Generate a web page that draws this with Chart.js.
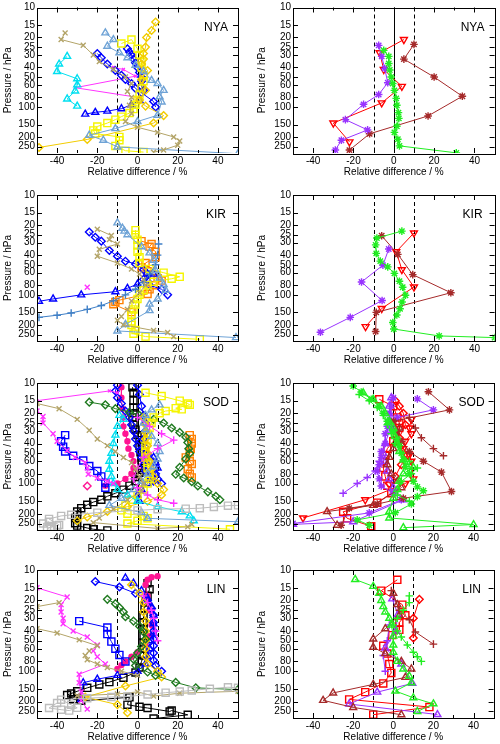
<!DOCTYPE html>
<html>
<head>
<meta charset="utf-8">
<script src="https://cdn.jsdelivr.net/npm/chart.js@4"></script>
<style>
  body { margin: 0; background: #fff; }
  #wrap { position: relative; width: 500px; height: 744px; }
  #wrap canvas { position: absolute; }
</style>
</head>
<body>
<div id="wrap"></div>
<script>
const pressureTicks = [10, 15, 20, 25, 30, 40, 50, 60, 80, 100, 150, 200, 250]
const diffTicks = [-40, -20, 0, 20, 40]
const refLines = [-10, 0, 10]
const stations = ["NYA", "KIR", "SOD", "LIN"]

// every series: [relative difference %, pressure hPa]
// NYA
const nyaCyanTri = [[-35,31],[-39,37],[-40,44],[-30,52],[-30,60],[-31,69],[-35,83],[-30,98]]
const nyaMagenta = [[-12,40],[-7,42],[-1,49],[-31,64],[0,80]]
const nyaBlueDia1 = [[-20,29],[-18,32],[-15,37],[-11,43],[-8,48],[-6,53],[-3,58],[-1,65],[2,72],[8,88],[9,100]]
const nyaBlueDia2 = [[-5,26],[-4,28],[-3,30],[-2,33],[-1,36],[0,40],[1,45],[2,50],[2,55],[2,62],[3,68]]
const nyaBlueTri = [[-26,118],[-21,113],[-15,110],[-8,104],[-3,95],[1,86]]
const nyaYellowSq = [[-8,23],[-3,21],[0,26],[1,30],[2,35],[2,40],[3,48],[3,55],[2,65],[1,75],[0,85],[-1,95],[-2,105],[-4,115],[-8,125],[-11,134],[-15,145],[-20,157],[-22,172],[-21,185],[-9,200],[-9,216],[-11,246],[-6,275],[3,284]]
const nyaGoldDia = [[9,14],[7,17],[4.5,20],[4,25],[3,29],[3,33],[2,37],[5,43],[2,53],[4,68],[1,85],[4,98],[13,122],[8,145],[-25,212],[-49,255]]
const nyaSkyTri = [[-16,18],[-12,21],[-15,24.5],[-9,28.5],[-5,32],[-1,38],[3,44],[7,54],[10,58],[13,68],[11,79],[12,89],[10,121],[0,140],[-11,165],[-24,192],[-17,216],[-10,252],[50,295]]
const nyaKhakiX = [[-36,18],[-38,21],[-27,24],[-22,30],[-19,35],[-12,42],[-6,50],[-3,58],[-5,70],[-3,80],[-4,96],[-3,116],[-6,140],[0,160],[10,180],[18,200],[21,220],[20,242],[13,270],[8,285]]
const nyaRedInv = [[5,21],[-7,28.5],[-5,42],[4,62],[-6,91],[-30,145],[-22,224]]
const nyaBrownStar = [[10,23.5],[5,33],[20,50],[34,78],[17,123],[-12,186],[-22,271]]
const nyaPurpleStar = [[-7.5,24],[-6,31],[-4.5,41],[-3,57],[-7.5,75],[-15,94],[-24,134],[-13,170],[-26,216],[-29,271]]
const nyaGreenStar = [[-5,27],[-2.5,31],[-2.5,36.5],[-2,42.5],[-1.3,50],[-0.5,58],[0.3,68],[1.2,82],[1.5,96],[2.3,114],[2.5,130],[1.5,156],[0.3,180],[2,211],[2.8,246],[31,289]]

// KIR
const kirSkyTri = [[-10,19],[-7.5,21.5],[-6.5,23],[-5,25],[2,33],[6,38],[8,45],[9,57],[11,68],[13,79],[14,90],[10,110],[6,124],[6,144],[-6,198],[-10,230],[49,268]]
const kirBlueDia = [[-24,23.5],[-21,26.5],[-18,29],[-14,36],[-10,41],[-6,46],[-1,49],[3,56],[5,62],[3,70],[6,80],[12,88],[15,100]]
const kirBlueTri = [[-49,116],[-42,110],[-28,100],[-11,93],[-5,86],[0,78],[5,70],[8,62]]
const kirSkyPlus = [[-49,168],[-40,160],[-33,152],[-25,140],[-18,128],[-12,115],[-6,100],[-1,88],[3,75],[6,62],[9,50],[10,40],[10.5,31]]
const kirKhakiX = [[-20,22],[-13,25.5],[-14,28],[-10,31],[-19,35],[-20,41],[-10,48],[-3,55],[1,62],[3,70],[4,80],[1,95],[-3,115],[-5,140],[-8,165],[-10,180],[-7,200],[8,228],[15,238],[18,262]]
const kirMagentaX = [[-25,84]]
const kirYellowSq = [[-1,22.5],[-1,25],[0,28],[0,32],[0,37],[1,42],[1,48],[6,55],[13,60],[21,66],[17,69],[8,74],[5,80],[3,90],[1,100],[0,110],[-1,125],[-2,140],[-3,160],[-3,185],[-3,200],[-1,225],[-2,245],[4,262],[31,279]]
const kirOrangeSq = [[2,29],[7,31],[6,33],[9,37],[9,42],[4,48],[2,53],[5,58],[8,63],[10,68],[12,72],[8,80],[6,88],[5,98],[-9,113],[-11,118],[-12,124],[-3,149]]
const kirGreenStar = [[4,23],[-8.4,27],[-9,31.6],[-8.7,38.4],[-6.7,46],[-3,52.5],[0.3,61],[2.8,73],[4.4,84],[5.8,101],[4.1,118],[3.1,138],[1.5,159],[-0.5,189],[0,220],[22.5,258],[50,268]]
const kirRedInv = [[10,24],[1.2,37],[4,56],[10,83.5],[-6,137],[-14,208]]
const kirBrownStar = [[-6,25.6],[2,39.3],[9.4,62.8],[28.3,95.3],[-8.7,150],[-9,233]]
const kirPurpleStar = [[-2.5,34.7],[-5.4,50.5],[-16,74.4],[-5.8,114],[-21.6,168],[-36.4,237]]

// SOD
const sodBlackSq = [[-2.5,11],[-2,12.5],[-2,15],[-2,17.5],[-2,20],[-2.5,22],[-2,26],[-1,29],[0,33],[1,37],[1,42],[1.5,49],[2,55],[2,62],[2,70],[1,78],[0,86],[-1,95],[-4,105],[-7,115],[-11,125],[-15,134],[-18,145],[-22,153],[-25,163],[-28,176],[-30,190],[-30,205],[-31,220],[-31,248],[-30,262],[-25,277],[-22,285],[-15,293]]
const sodGreySq = [[-44,240],[-47,250],[-40,262],[-43,270],[-45,280],[-39,258],[-44,225],[-38,210],[-33,205],[-20,195],[0,185],[10,180],[24,178],[31,176],[38,171],[45,166],[50,165]]
const sodYellowSq = [[4,12.5],[12,13.5],[21,15],[25,16],[26,16.5],[19,17.8],[22,18.3],[14,19],[11,20],[8,22],[7,25],[6,28],[5,32],[5,37],[4,42],[4,48],[4,55],[5,62],[5,70],[6,80],[6,90],[5,100],[3,115],[0,130],[-3,145],[-6,165],[-8,185],[-5,200],[3,210],[5,222],[0,235],[-5,250],[46,285]]
const sodGoldDia = [[3,22],[4,26],[4,31],[4,36],[5,42],[5,50],[6,60],[7,72],[8,85],[10,100],[13,115],[12,130],[5,150],[-5,170],[-15,190],[-25,215],[-30,235]]
const sodGreenDia = [[-24,15.5],[-16,16.5],[-11,18],[-4,19.5],[1,21],[8,23],[13,25],[17,28],[21,31],[24,34.5],[25,39],[25.5,45],[26,50],[24,57],[21,69],[19,81],[23,88],[27,96],[30,106],[35,121],[39,134],[41,145]]
const sodOrangeSq = [[26,33],[27,36],[27,40],[26.5,45],[26,49],[24,55],[26,60],[27,64],[25,72],[26,80],[27,87]]
const sodBlueDia1 = [[-10,10.5],[-11,12],[-10,14],[-8,16],[-6,19],[-4,22],[-3,26],[-2,30],[-1,36],[0,42],[1,48],[2,55],[3,65],[4,75],[6,85],[8,95],[12,100]]
const sodBlueDia2 = [[0,10.5],[1,13],[2,17],[3,21],[4,25],[4,30],[3,36],[4,44],[5,52],[7,60],[8,70],[9,80],[10,90]]
const sodBlueSq = [[-36,33],[-38,38],[-37,43],[-36,48],[-32,53],[-27,59],[-24,67],[-20,75],[-18,85],[-16,98],[-16,110]]
const sodBlueTri = [[8,55],[9,62],[10,70],[9,80],[7,90],[5,100],[2,115],[0,130],[1,150]]
const sodCyanTri = [[-9,21],[-7,23],[-10,27],[-11,33],[-12,40],[-13,50],[-14,60],[-14,72],[-13,85],[-12,100],[-10,115],[-5,130],[0,150],[10,170],[22,191],[26,210],[28,235]]
const sodSkyTri = [[11,16.5],[7,18.5],[4,21],[3,25],[4,29],[7,34],[10,40],[11,48],[10,57],[8,68],[5,80],[2,95],[-2,115],[-8,140],[-14,165],[2,195],[5,222],[50,240]]
const sodKhakiX = [[-50,16],[-39,18],[-30,23],[-24,29.5],[-20,36],[-15,42],[-11,48],[-7,55],[-3,62],[-1,72],[1,85],[3,100],[2,120],[-5,145],[-12,180],[-19,220],[-22,245],[10,280],[25,270],[27,255]]
const sodMagentaX = [[-50,19],[-47,21.5],[-47,25],[-42,32],[-40,38],[-35,47],[-31,55],[-26,62],[-25,70],[-24.5,81],[-20,88],[-15,95],[-12,100]]
const sodMagentaTop = [[-50,15],[-14,12],[-10,12.5]]
const sodMagentaPlus = [[0,22],[6,27],[12,32],[18,37],[10,45],[3,55],[0,70],[-2,90],[0,110],[5,130],[10,145],[18,157]]
const sodPink = [[-8,11],[-8,14],[-7.5,18],[-7,22],[-7,27],[-6,32],[-5,38],[-4.5,45],[-3,52],[-2,60],[-2,70],[-3,80],[-6,90],[-10,100],[-16,105]]
const sodPinkDia = [[-25,106]]
const sodGreenTri = [[-15,12.5],[-10,14.5],[-6,17],[-4,20],[-2,24],[0,28],[1,34],[2,40],[3,48],[5,58],[7,68],[10,69],[5,80],[3,95],[2,115],[0,140],[-2,190],[-2,220],[40,256],[5,275]]
const sodGreenStar = [[-20,10.7],[-16,12.3],[-11,14.5],[-7,17],[-5,20],[-3,24],[0,30],[2,36],[3,42],[4,50],[5,58],[6,68],[8,80],[10,95],[12,108],[15,118],[12,135],[9,160],[1,195],[-18,230],[-12,260]]
const sodGreenPlus = [[-17,13],[-12,15],[-8,17.5],[-5,21],[-3,26],[-1,32],[1,40],[4,50],[8,60],[12,70],[9,80],[4,95],[2,130],[8,150]]
const sodRedSq = [[-7,14.5],[0,17],[2,22],[3,25],[3,28],[1,33],[0,38],[-3,45],[-4,52],[-5,60],[-5,70],[-4,85],[-3,105],[-1,125],[-8,155],[-25,191],[-23,222],[-11,266]]
const sodRedDia = [[1,15],[3,17],[5,20],[6,26],[3,35],[4,42],[7,52],[4,65],[1,85],[-2,100]]
const sodRedInv = [[9,23],[8,28],[9,32],[6,38],[5,45],[8,52],[9,60],[10,90],[6,100],[-14,145],[-45,220]]
const sodBrownStar = [[17.5,12.2],[28,18.5],[0,24],[2,30],[4,38],[8,48],[15,60],[24,77],[29,120],[5,140],[-8,160],[-22,176],[-26,260]]
const sodBrownPlus = [[8,22],[11,28],[14,35],[20,45],[25,53]]
const sodBrownTri = [[3,28],[2,35],[0,45],[-2,55],[-3,65],[-1,80],[2,95],[4,110],[-10,165],[-33,190],[-28,260]]
const sodPurpleStar = [[0,14],[-1,17],[-2,20],[-1,24],[-3,27],[-4,32],[-4,40],[-6,48],[-6,55],[-7,65],[-8,75],[-7,90],[-6,106],[0,125],[4,145],[-12,196],[-50,250]]
const sodPurpleStar2 = [[12,14.4],[20,18.5],[2,22],[-1,28]]
const sodPurplePlus = [[-25,125],[-18,100],[-13,87],[-9,75],[-7,60]]
const sodPurpleTri = [[-1,14],[-2,17],[-1,22],[-2,30],[-4,40],[-5,50],[-4,60],[-3,75],[-2,90],[0,110],[5,145],[-20,240],[-50,255]]

// LIN
const linBlackSq = [[5,13.5],[6,15.5],[5,18],[4,21],[3.5,24],[3,28],[3,33],[3,38],[3,45],[3,52],[3,60],[3,70],[2,80],[1,92],[-1,103],[-7,116],[-14,128],[-19,135],[-25,146],[-30,158],[-33,166],[-35,172],[-32,189],[-28,196],[-4,181],[-5,214],[1,225],[5,231],[16,250],[17,245],[25,270],[8,294]]
const linBlueDia = [[-21,13],[-9,14.7],[-1,17],[5,20],[7,24],[8,28],[8,33],[8,40],[8,48],[8,56],[8,66],[8,78],[9,88],[12,100]]
const linBlueTri = [[-6,12],[-2,13.5],[2,16],[5,19],[7,23],[8,28],[8,34],[8,42],[7,50],[6,60],[5,72],[4,85],[0,100],[-10,110],[-20,120],[-27,130],[-28,190]]
const linBlueSq = [[-29,32],[-15,37],[-15,43],[-13,51],[-11,60],[-9,69],[-6,80]]
const linGreenDia = [[-15,19.5],[-11,21.5],[-9,23.5],[-7,26],[-6,29],[-2,32],[1,36],[3,41],[4,48],[2,57],[0,66],[-2,76],[-1,88],[5,102],[9,110],[19,129],[29,146],[50,152]]
const linPink = [[10,11.5],[7,11.8],[5,12.5],[4,14],[5,18],[6,25],[7,35],[6,45],[4,55],[0,65],[-3,72],[-6,80],[-8,87],[-10,95]]
const linMagentaX = [[-50,15],[-35,18.5],[-38,22],[-38,26],[-37,30],[-37,34],[-32,40],[-25,46],[-20,55],[-22,63],[-20,72],[-16,85],[-29,107],[-29,130],[-28,160],[-28,195],[-25,237]]
const linMagentaPlus = [[3,18],[5,21],[7,25],[8,30],[9,40],[10,50]]
const linKhakiTop = [[-50,23],[-39,21]]
const linKhakiX = [[-50,38],[-40,42],[-29,49],[-20,56],[-24,63],[-26,70],[-25,77],[-20,85],[-15,92],[-8,100],[0,110]]
const linKhakiLow = [[-30,175],[-10,168],[0,160],[8,176],[21,165],[50,158]]
const linGreySq = [[-40,206],[-44,231],[-38,240],[-34,245],[-30,230],[-33,215],[-38,191],[-25,185],[-13,180],[-5,178],[5,170],[14,163],[21,159],[27,155],[36,149],[45,144],[50,146]]
const linGoldDia = [[-3,14],[1,17],[3,21],[3,26],[4,32],[4,40],[4,50],[4,60],[4,72],[5,85],[10,100],[12,114],[-6,140],[-26,180],[-10,214],[-5,257]]
const linGreenTri = [[-19,12.4],[-10,14.5],[-7,17],[-6,20],[-5,23],[-4,26],[-2,30],[-1,35],[0,45],[0,55],[0,65],[2,80],[5,95],[8,112],[9,130],[1,157],[10,183],[20,210],[12,250]]
const linGreenPlus = [[8,18],[8,21],[5,25],[2,30],[0,35],[2,40],[4,46],[7,55],[10,65],[12,72],[14,80]]
const linRedSq = [[2,12.5],[-6,16],[4.5,22],[6,28],[3,33],[3,39],[-0.5,44],[-5,56],[-3,67],[-2,85],[-1,104],[-5,132],[-14,161],[-22,190],[18,226],[-10,269]]
const linRedDia = [[13,19.5],[10,30],[10,47]]
const linBrownTri = [[0,17],[2,22],[3,28],[-4,38],[-10,48],[-10,58],[-4,67],[4,80],[9,95],[6,115],[-10,135],[-30,164],[-35,194],[-20,228],[4,269]]
const linBrownPlus = [[-1,16],[3,25],[8,31],[11,41],[20,54]]
const linPurpleTri = [[-0.5,19.3],[2.3,27.5],[1.2,40],[-4,59],[4,85],[9.5,132],[-8,161],[-22,211],[22,268]]
const linPurplePlus = [[-2,35],[-3,50],[-5,70],[-4,100]]

const styles = {
  cyanTri: { color: "#00dff0", shape: "triangle" },
  magentaLine: { color: "#ff33ff", shape: "crossRot", r: 2 },
  magentaX: { color: "#ff33ff", shape: "crossRot" },
  magentaPlus: { color: "#ff33ff", shape: "cross" },
  blueDia: { color: "#0000ff", shape: "rectRot" },
  blueTri: { color: "#0000ff", shape: "triangle" },
  blueSq: { color: "#0000ff", shape: "rect" },
  yellowSq: { color: "#f5f500", shape: "rect" },
  goldDia: { color: "#f2cc00", shape: "rectRot" },
  skyTri: { color: "#6fa3d6", shape: "triangle" },
  skyPlus: { color: "#3f7fc6", shape: "cross" },
  khakiX: { color: "#b3a468", shape: "crossRot" },
  orangeSq: { color: "#ff8000", shape: "rect" },
  greenDia: { color: "#1f7a1f", shape: "rectRot" },
  blackSq: { color: "#000000", shape: "rect" },
  greySq: { color: "#bdbdbd", shape: "rect" },
  pink: { color: "#ff1493", shape: "circle", fill: true, r: 2.5 },
  pinkDia: { color: "#ff1493", shape: "rectRot" },
  redInv: { color: "#ff0000", shape: "triangle", rot: 180 },
  redSq: { color: "#ff0000", shape: "rect" },
  redDia: { color: "#ff0000", shape: "rectRot" },
  brownStar: { color: "#a52a2a", shape: "star" },
  brownPlus: { color: "#a52a2a", shape: "cross" },
  brownTri: { color: "#a52a2a", shape: "triangle" },
  purpleStar: { color: "#9933ff", shape: "star" },
  purplePlus: { color: "#9933ff", shape: "cross" },
  purpleTri: { color: "#9933ff", shape: "triangle" },
  greenStar: { color: "#22ee22", shape: "star" },
  greenTri: { color: "#22ee22", shape: "triangle" },
  greenPlus: { color: "#22ee22", shape: "cross" },
}

const sizes = { triangle: 4, rect: 5, rectRot: 3.8, crossRot: 3.5, cross: 3.8, star: 3.8, circle: 3 }

const panels = [
  { row: 0, col: 0, series: [[nyaKhakiX,"khakiX"],[nyaSkyTri,"skyTri"],[nyaGoldDia,"goldDia"],[nyaYellowSq,"yellowSq"],[nyaCyanTri,"cyanTri"],[nyaBlueTri,"blueTri"],[nyaBlueDia1,"blueDia"],[nyaBlueDia2,"blueDia"],[nyaMagenta,"magentaLine"]] },
  { row: 0, col: 1, series: [[nyaGreenStar,"greenStar"],[nyaPurpleStar,"purpleStar"],[nyaBrownStar,"brownStar"],[nyaRedInv,"redInv"]] },
  { row: 1, col: 0, series: [[kirKhakiX,"khakiX"],[kirSkyTri,"skyTri"],[kirSkyPlus,"skyPlus"],[kirYellowSq,"yellowSq"],[kirBlueTri,"blueTri"],[kirBlueDia,"blueDia"],[kirOrangeSq,"orangeSq"],[kirMagentaX,"magentaX"]] },
  { row: 1, col: 1, series: [[kirGreenStar,"greenStar"],[kirPurpleStar,"purpleStar"],[kirBrownStar,"brownStar"],[kirRedInv,"redInv"]] },
  { row: 2, col: 0, series: [[sodGreySq,"greySq"],[sodKhakiX,"khakiX"],[sodMagentaX,"magentaX"],[sodMagentaTop,"magentaLine"],[sodMagentaPlus,"magentaPlus"],[sodSkyTri,"skyTri"],[sodCyanTri,"cyanTri"],[sodGoldDia,"goldDia"],[sodYellowSq,"yellowSq"],[sodGreenDia,"greenDia"],[sodOrangeSq,"orangeSq"],[sodBlueSq,"blueSq"],[sodBlueTri,"blueTri"],[sodBlueDia1,"blueDia"],[sodBlueDia2,"blueDia"],[sodPink,"pink"],[sodPinkDia,"pinkDia"],[sodBlackSq,"blackSq"]] },
  { row: 2, col: 1, series: [[sodGreenTri,"greenTri"],[sodGreenStar,"greenStar"],[sodGreenPlus,"greenPlus"],[sodBrownTri,"brownTri"],[sodBrownPlus,"brownPlus"],[sodBrownStar,"brownStar"],[sodPurpleTri,"purpleTri"],[sodPurplePlus,"purplePlus"],[sodPurpleStar,"purpleStar"],[sodPurpleStar2,"purpleStar"],[sodRedInv,"redInv"],[sodRedDia,"redDia"],[sodRedSq,"redSq"]] },
  { row: 3, col: 0, series: [[linGreySq,"greySq"],[linKhakiTop,"khakiX"],[linKhakiX,"khakiX"],[linKhakiLow,"khakiX"],[linMagentaX,"magentaX"],[linMagentaPlus,"magentaPlus"],[linGreenDia,"greenDia"],[linGoldDia,"goldDia"],[linBlueSq,"blueSq"],[linBlueTri,"blueTri"],[linBlueDia,"blueDia"],[linPink,"pink"],[linBlackSq,"blackSq"]] },
  { row: 3, col: 1, series: [[linGreenTri,"greenTri"],[linGreenPlus,"greenPlus"],[linBrownTri,"brownTri"],[linBrownPlus,"brownPlus"],[linPurpleTri,"purpleTri"],[linPurplePlus,"purplePlus"],[linRedDia,"redDia"],[linRedSq,"redSq"]] },
]

// layout per row / column
const rowTop = [7, 9, 11, 12]
const rowBottom = [153, 155, 158, 160]
const colLayout = [
  { padLeft: 0, yWidth: 37, padRight: 12 },
  { padLeft: 4, yWidth: 39, padRight: 4 },
]
const W = 250, H = 186, X_AXIS_H = 25
const FONT = "'Liberation Sans', Arial, Helvetica, sans-serif"

function makeDataset(points, key) {
  const s = styles[key]
  const fill = s.fill ? s.color : "rgba(0,0,0,0)"
  return {
    data: points.map(([x, p]) => ({ x: x, y: p })),
    showLine: true,
    borderColor: s.color,
    backgroundColor: fill,
    borderWidth: 1,
    pointStyle: s.shape,
    pointRadius: s.r || sizes[s.shape],
    pointRotation: s.rot || 0,
    pointBorderColor: s.color,
    pointBackgroundColor: fill,
    pointBorderWidth: 1.4,
  }
}

const framePlugin = {
  id: "frame",
  beforeDatasetsDraw(chart) {
    const { ctx, chartArea: a } = chart
    const x = chart.scales.x
    ctx.save()
    ctx.strokeStyle = "#000"
    ctx.lineWidth = 1
    refLines.forEach(v => {
      const px = Math.round(x.getPixelForValue(v)) + 0.5
      ctx.setLineDash(v === 0 ? [] : [4, 3])
      ctx.beginPath()
      ctx.moveTo(px, a.top)
      ctx.lineTo(px, a.bottom)
      ctx.stroke()
    })
    ctx.restore()
  },
  afterDraw(chart, args, opts) {
    const { ctx, chartArea: a } = chart
    const x = chart.scales.x, y = chart.scales.y
    ctx.save()
    ctx.strokeStyle = "#000"
    ctx.lineWidth = 1
    ctx.strokeRect(Math.round(a.left) + 0.5, Math.round(a.top) + 0.5, Math.round(a.right - a.left), Math.round(a.bottom - a.top))
    ctx.beginPath()
    for (let v = -40; v <= 40; v += 10) {
      const px = Math.round(x.getPixelForValue(v)) + 0.5
      const len = diffTicks.includes(v) ? 5 : 3
      ctx.moveTo(px, a.bottom); ctx.lineTo(px, a.bottom - len)
      ctx.moveTo(px, a.top); ctx.lineTo(px, a.top + len)
    }
    pressureTicks.forEach(p => {
      const py = Math.round(y.getPixelForValue(p)) + 0.5
      ctx.moveTo(a.left, py); ctx.lineTo(a.left + 5, py)
      ctx.moveTo(a.right, py); ctx.lineTo(a.right - 5, py)
    })
    ctx.stroke()
    ctx.fillStyle = "#000"
    ctx.font = "12px " + FONT
    ctx.textAlign = "center"
    ctx.textBaseline = "middle"
    ctx.fillText(opts.station, a.right - 22, a.top + 20)
    ctx.restore()
  },
}

const wrap = document.getElementById("wrap")
panels.forEach(panel => {
  const canvas = document.createElement("canvas")
  canvas.width = W
  canvas.height = H
  canvas.style.left = panel.col * W + "px"
  canvas.style.top = panel.row * H + "px"
  wrap.appendChild(canvas)
  const c = colLayout[panel.col]

  new Chart(canvas, {
    type: "scatter",
    data: { datasets: panel.series.map(([pts, key]) => makeDataset(pts, key)) },
    options: {
      responsive: false,
      animation: false,
      events: [],
      layout: {
        padding: {
          top: rowTop[panel.row],
          bottom: H - rowBottom[panel.row] - X_AXIS_H,
          left: c.padLeft,
          right: c.padRight,
        },
      },
      plugins: {
        legend: { display: false },
        tooltip: { enabled: false },
        frame: { station: stations[panel.row] },
      },
      scales: {
        x: {
          type: "linear",
          min: -50,
          max: 50,
          afterBuildTicks: axis => { axis.ticks = diffTicks.map(v => ({ value: v })) },
          afterFit: axis => { axis.height = X_AXIS_H },
          grid: { display: false, drawTicks: false },
          border: { display: false },
          ticks: { color: "#000", padding: 3, maxRotation: 0, font: { family: FONT, size: 10, lineHeight: 1.1 } },
          title: { display: true, text: "Relative difference / %", color: "#000", padding: 0, font: { family: FONT, size: 10, lineHeight: 1.2 } },
        },
        y: {
          type: "logarithmic",
          reverse: true,
          min: 10,
          max: 290,
          afterBuildTicks: axis => { axis.ticks = pressureTicks.map(v => ({ value: v })) },
          afterFit: axis => { axis.width = c.yWidth },
          grid: { display: false, drawTicks: false },
          border: { display: false },
          ticks: { color: "#000", padding: 2, autoSkip: false, callback: v => String(v), font: { family: FONT, size: 10, lineHeight: 1.1 } },
          title: { display: true, text: "Pressure / hPa", color: "#000", padding: { top: 2.5, bottom: 0 }, font: { family: FONT, size: 10, lineHeight: 1.2 } },
        },
      },
    },
    plugins: [framePlugin],
  })
})
</script>
</body>
</html>
